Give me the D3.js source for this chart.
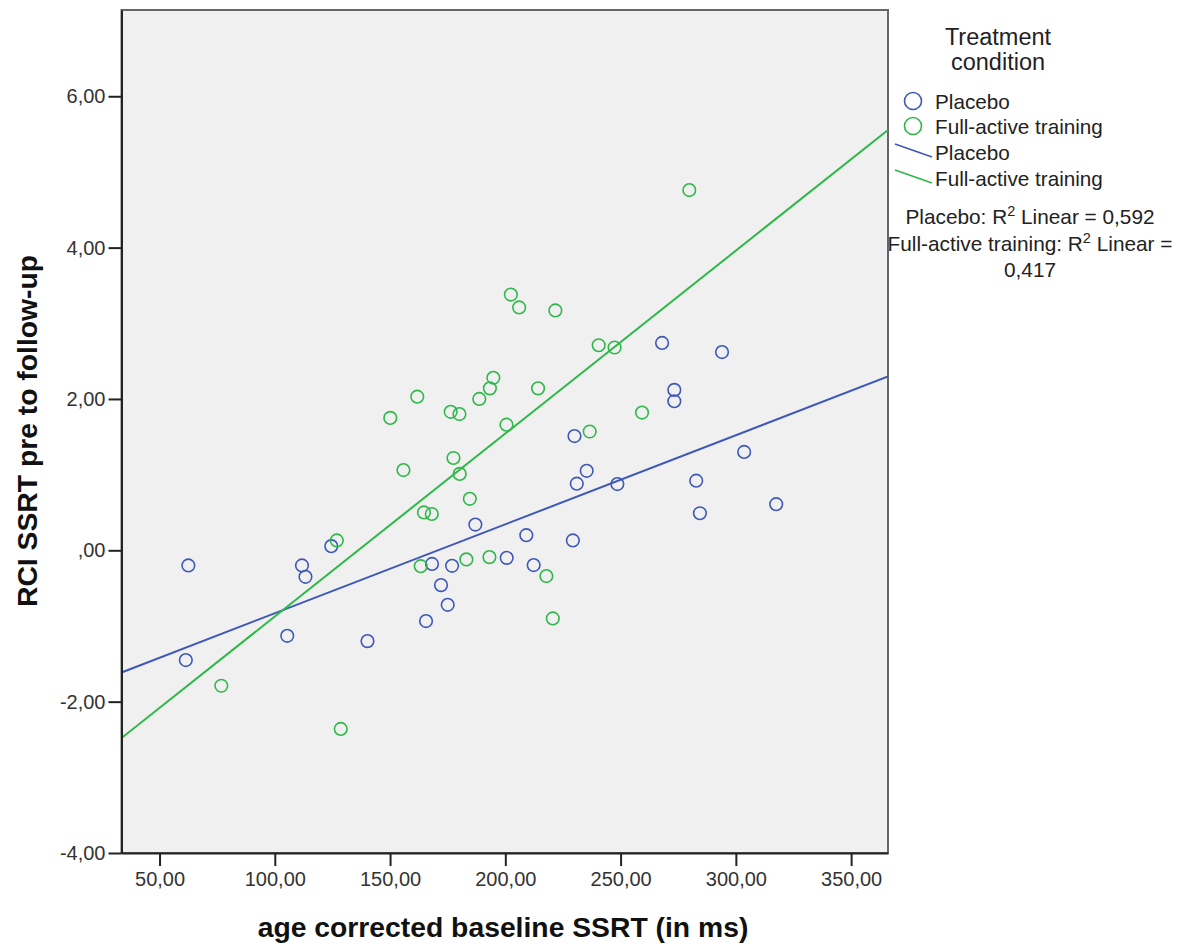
<!DOCTYPE html>
<html>
<head>
<meta charset="utf-8">
<script src="https://cdn.jsdelivr.net/npm/d3@7"></script>
<style>
  body { margin: 0; background: #fff; }
  text { font-family: "Liberation Sans", Arial, sans-serif; }
</style>
</head>
<body>
<svg width="1183" height="947"></svg>
<script>
// Placebo group: baseline SSRT (x) and RCI (y)
const placeboX = [62.5, 61.4, 105.4, 111.8, 113.3, 124.5, 140.2, 165.6, 168.2, 172.1,
  175.0, 176.9, 187.0, 200.6, 209.1, 212.3, 229.3, 230.0, 231.0, 235.3,
  248.6, 268.0, 273.3, 273.3, 282.8, 284.4, 294.0, 303.6, 317.5];
const placeboY = [-0.20, -1.45, -1.13, -0.20, -0.35, 0.055, -1.20, -0.935, -0.18, -0.46,
  -0.72, -0.205, 0.34, -0.10, 0.20, -0.195, 0.13, 1.51, 0.88, 1.05,
  0.875, 2.74, 2.12, 1.97, 0.92, 0.49, 2.62, 1.30, 0.61];

// Full-active training group
const activeX = [76.8, 126.9, 128.6, 150.1, 155.8, 161.8, 163.3, 164.7, 168.1, 176.3,
  177.5, 180.1, 180.2, 183.1, 184.6, 188.7, 193.1, 193.3, 194.8, 200.5,
  202.4, 206.0, 214.2, 217.8, 220.6, 221.7, 236.6, 240.5, 247.4, 259.3, 279.8];
const activeY = [-1.79, 0.13, -2.36, 1.75, 1.06, 2.03, -0.21, 0.50, 0.48, 1.83,
  1.22, 1.80, 1.01, -0.12, 0.68, 2.00, -0.09, 2.14, 2.28, 1.66,
  3.38, 3.21, 2.14, -0.34, -0.90, 3.17, 1.57, 2.71, 2.68, 1.82, 4.76];

// linear fits [intercept, slope]
const placeboFit = [-2.008, 0.01176];
const activeFit = [-3.291, 0.02417];

const xTicks = [50, 100, 150, 200, 250, 300, 350];
const xTickLabels = ['50,00', '100,00', '150,00', '200,00', '250,00', '300,00', '350,00'];
const yTicks = [-4, -2, 0, 2, 4, 6];
const yTickLabels = ['-4,00', '-2,00', ',00', '2,00', '4,00', '6,00'];

const groups = ['Placebo', 'Full-active training'];
const colors = ['#3e58b8', '#2eb848'];
const r2Lines = ['Placebo: R|2| Linear = 0,592', 'Full-active training: R|2| Linear =', '0,417'];

const svg = d3.select('svg');
const pLeft = 121.5, pRight = 888, pTop = 10, pBottom = 853;

const x = d3.scaleLinear().domain([33.5, 366]).range([pLeft, pRight]);
const y = d3.scaleLinear().domain([-4, 7.14]).range([pBottom, pTop]);

// legend first, the plot panel covers the clipped "F"
const legend = svg.append('g');
legend.append('text').attr('x', 998).attr('y', 45).attr('text-anchor', 'middle')
  .attr('font-size', 23.5).attr('fill', '#222').text('Treatment');
legend.append('text').attr('x', 998).attr('y', 70).attr('text-anchor', 'middle')
  .attr('font-size', 23.5).attr('fill', '#222').text('condition');

groups.forEach((g, i) => {
  const cy = 101 + i * 25;
  legend.append('circle').attr('cx', 913).attr('cy', cy).attr('r', 8.5)
    .attr('fill', 'none').attr('stroke', colors[i]).attr('stroke-width', 1.6);
  legend.append('text').attr('x', 935).attr('y', cy + 8).attr('font-size', 20.7)
    .attr('fill', '#222').text(g);
});
groups.forEach((g, i) => {
  const ly = 144 + i * 26;
  legend.append('line').attr('x1', 895).attr('y1', ly).attr('x2', 932).attr('y2', ly + 13)
    .attr('stroke', colors[i]).attr('stroke-width', 1.6);
  legend.append('text').attr('x', 935).attr('y', ly + 16).attr('font-size', 20.7)
    .attr('fill', '#222').text(g);
});

r2Lines.forEach((s, i) => {
  const t = legend.append('text').attr('x', 1030).attr('y', 224 + i * 26.5)
    .attr('text-anchor', 'middle').attr('font-size', 20.8).attr('fill', '#222');
  s.split('|').forEach((part, k) => {
    if (k === 1) {
      t.append('tspan').attr('font-size', 14.5).attr('dy', -8).text(part);
    } else if (k === 2) {
      t.append('tspan').attr('dy', 8).text(part);
    } else {
      t.append('tspan').text(part);
    }
  });
});

// plot panel
svg.append('rect').attr('x', pLeft).attr('y', pTop).attr('width', pRight - pLeft).attr('height', pBottom - pTop)
  .attr('fill', '#f0f0f0').attr('stroke', '#666').attr('stroke-width', 2);

svg.append('defs').append('clipPath').attr('id', 'clip')
  .append('rect').attr('x', pLeft).attr('y', pTop).attr('width', pRight - pLeft).attr('height', pBottom - pTop);

const plot = svg.append('g').attr('clip-path', 'url(#clip)');

// regression lines
[placeboFit, activeFit].forEach((f, i) => {
  const [x0, x1] = x.domain();
  plot.append('line')
    .attr('x1', x(x0)).attr('y1', y(f[0] + f[1] * x0))
    .attr('x2', x(x1)).attr('y2', y(f[0] + f[1] * x1))
    .attr('stroke', colors[i]).attr('stroke-width', 2);
});

function drawPoints(xs, ys, color) {
  plot.selectAll(null).data(xs.map((v, i) => [v, ys[i]])).enter()
    .append('circle')
    .attr('cx', d => x(d[0]))
    .attr('cy', d => y(d[1]))
    .attr('r', 6.3)
    .attr('fill', 'none')
    .attr('stroke', color)
    .attr('stroke-width', 1.6);
}
drawPoints(placeboX, placeboY, colors[0]);
drawPoints(activeX, activeY, colors[1]);

// axes
const xAxis = svg.append('g').attr('transform', `translate(0,${pBottom})`)
  .call(d3.axisBottom(x).tickValues(xTicks).tickSize(13).tickSizeOuter(0).tickPadding(6)
    .tickFormat((d, i) => xTickLabels[i]));
const yAxis = svg.append('g').attr('transform', `translate(${pLeft},0)`)
  .call(d3.axisLeft(y).tickValues(yTicks).tickSize(13).tickSizeOuter(0).tickPadding(3)
    .tickFormat((d, i) => yTickLabels[i]));

[xAxis, yAxis].forEach(a => {
  a.select('.domain').attr('stroke', '#222').attr('stroke-width', 2);
  a.selectAll('.tick line').attr('stroke', '#222').attr('stroke-width', 2);
  a.selectAll('.tick text').attr('font-size', 20).attr('fill', '#333')
    .attr('font-family', '"Liberation Sans", Arial, sans-serif');
});

// axis titles
svg.append('text').attr('x', 503).attr('y', 937).attr('text-anchor', 'middle')
  .attr('font-size', 28.3).attr('font-weight', 'bold').attr('fill', '#111')
  .text('age corrected baseline SSRT (in ms)');
svg.append('text').attr('transform', 'translate(37,431) rotate(-90)').attr('text-anchor', 'middle')
  .attr('font-size', 28.3).attr('font-weight', 'bold').attr('fill', '#111')
  .text('RCI SSRT pre to follow-up');
</script>
</body>
</html>
